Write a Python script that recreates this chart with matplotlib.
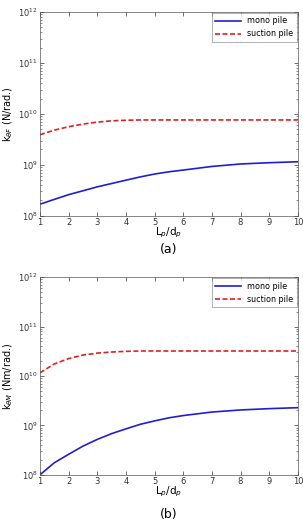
import numpy as np
import matplotlib.pyplot as plt
from matplotlib.ticker import LogLocator, NullFormatter

# valores
lp_dp = [1, 1.5, 2, 2.5, 3, 3.5, 4, 4.5, 5, 5.5, 6, 7, 8, 9, 10]

k_theta_F_mono = [1.69e8, 2.1e8, 2.6e8, 3.1e8, 3.7e8, 4.3e8, 5.0e8, 5.8e8, 6.6e8, 7.3e8, 7.9e8, 9.3e8, 1.04e9, 1.1e9, 1.15e9]
k_theta_F_suction = [3.9e9, 4.8e9, 5.6e9, 6.3e9, 6.9e9, 7.3e9, 7.5e9, 7.6e9, 7.6e9, 7.6e9, 7.6e9, 7.6e9, 7.6e9, 7.6e9, 7.6e9]

k_theta_M_mono = [1.0e8, 1.75e8, 2.6e8, 3.8e8, 5.2e8, 6.8e8, 8.5e8, 1.05e9, 1.23e9, 1.42e9, 1.58e9, 1.86e9, 2.05e9, 2.18e9, 2.28e9]
k_theta_M_suction = [1.16e10, 1.75e10, 2.25e10, 2.65e10, 2.9e10, 3.05e10, 3.15e10, 3.2e10, 3.2e10, 3.2e10, 3.2e10, 3.2e10, 3.2e10, 3.2e10, 3.2e10]

ylabels = [r'k$_{\theta F}$ (N/rad.)', r'k$_{\theta M}$ (Nm/rad.)']
captions = ['(a)', '(b)']

fig = plt.figure(figsize=(3.03, 5.2), dpi=100)
ax1 = fig.add_axes([0.132, 0.585, 0.851, 0.392])
ax2 = fig.add_axes([0.132, 0.087, 0.851, 0.380])

datos = [(k_theta_F_mono, k_theta_F_suction), (k_theta_M_mono, k_theta_M_suction)]

for ax, (mono, suction), ylab, ypos in zip([ax1, ax2], datos, ylabels, [-0.048, -0.052]):
    ax.plot(lp_dp, mono, color='#1f1fd0', lw=1.2, label='mono pile')
    ax.plot(lp_dp, suction, color='#e02020', lw=1.2, ls=(0, (3, 1.5)), label='suction pile')
    ax.set_yscale('log')
    ax.set_xlim(1, 10)
    ax.set_ylim(1e8, 1e12)
    ax.set_xticks(range(1, 11))
    ax.yaxis.set_major_locator(LogLocator(base=10, numticks=10))
    ax.yaxis.set_minor_locator(LogLocator(base=10, subs=np.arange(2, 10), numticks=20))
    ax.yaxis.set_minor_formatter(NullFormatter())
    ax.tick_params(which='both', direction='in', top=True, right=True, labelsize=6, colors='#333333', pad=1.5)
    ax.tick_params(which='major', length=3, width=0.5)
    ax.tick_params(which='minor', length=1.5, width=0.4)
    for s in ax.spines.values():
        s.set_linewidth(0.5)
        s.set_color('#555555')
    ax.set_xlabel(r'L$_p$/d$_p$', fontsize=7.5)
    ax.xaxis.set_label_coords(0.5, ypos)
    ax.set_ylabel(ylab, fontsize=7, labelpad=2)
    leg = ax.legend(loc='upper right', fontsize=5.8, frameon=True, fancybox=False,
                    borderaxespad=0.15, handlelength=3.2, borderpad=0.4, labelspacing=0.5)
    leg.get_frame().set_linewidth(0.5)
    leg.get_frame().set_edgecolor('#777777')

fig.text(0.557, 0.521, captions[0], ha='center', va='center', fontsize=9)
fig.text(0.557, 0.011, captions[1], ha='center', va='center', fontsize=9)

plt.savefig('out.png', dpi=100)
